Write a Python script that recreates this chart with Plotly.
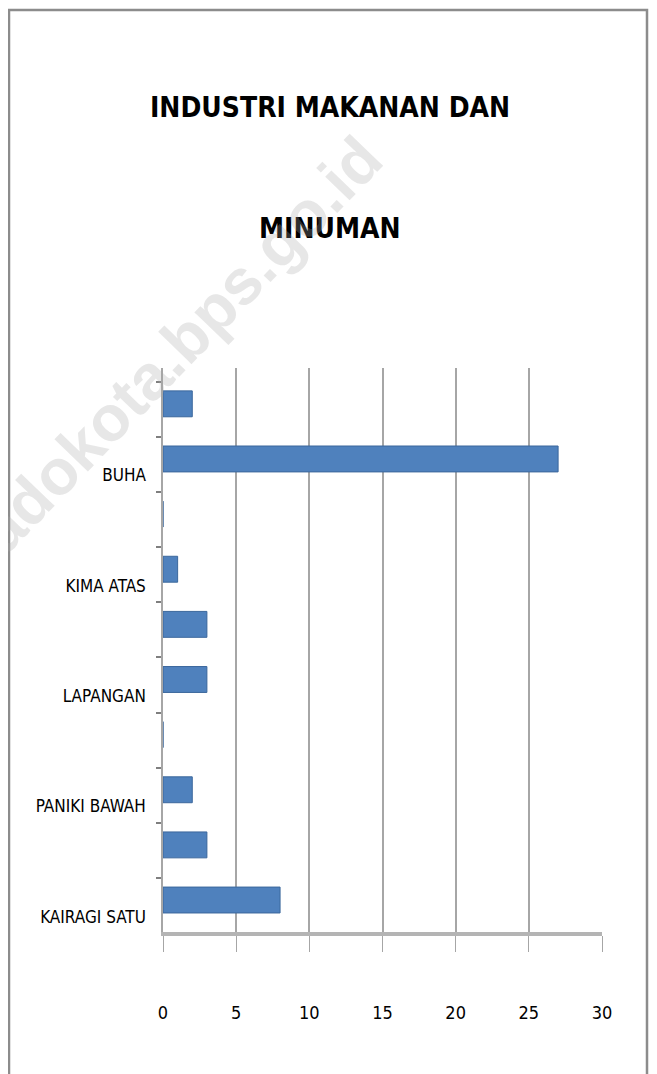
import plotly.graph_objects as go

# bottom -> top, ten kelurahan; only every other label is printed in the chart
positions = [0, 1, 2, 3, 4, 5, 6, 7, 8, 9]
values = [8, 3, 2, 0, 3, 3, 1, 0, 27, 2]
shown_labels = ["KAIRAGI SATU", "PANIKI BAWAH", "LAPANGAN", "KIMA ATAS", "BUHA"]
shown_at = [0, 2, 4, 6, 8]
x_ticks = [0, 5, 10, 15, 20, 25, 30]

TITLE_LINES = ["INDUSTRI MAKANAN DAN", "MINUMAN"]
WATERMARK = "manadokota.bps.go.id"

NARROW = "DejaVu Sans Condensed, Liberation Sans Narrow, Arial Narrow, sans-serif"

# page pixel -> paper coords (plot area sits at x 163..602, y 368..932 on the page)
def px(x):
    return (x - 163) / 439


def py(y):
    return (932 - y) / 564


fig = go.Figure(
    go.Bar(
        x=values,
        y=positions,
        orientation="h",
        width=0.47,
        marker=dict(color="#4f81bd", line=dict(color="#3b679c", width=1)),
        hoverinfo="x",
    )
)

# the page body adds an 8px margin, so the figure is 8px smaller than the window
fig.update_layout(
    width=649,
    height=1066,
    margin=dict(l=155, r=55, t=360, b=142),
    paper_bgcolor="white",
    plot_bgcolor="white",
    showlegend=False,
)

fig.update_xaxes(
    range=[0, 30],
    tickvals=x_ticks,
    showgrid=True,
    gridcolor="#a6a6a6",
    gridwidth=1.5,
    showline=True,
    linecolor="#b4b4b4",
    linewidth=4,
    ticks="outside",
    ticklen=16,
    tickcolor="#a6a6a6",
    ticklabelstandoff=45,
    tickfont=dict(family=NARROW, size=18, color="black"),
    zeroline=False,
)

fig.update_yaxes(
    range=[-0.58, 9.65],
    tickmode="array",
    tickvals=[p - 0.3 for p in shown_at],
    ticktext=shown_labels,
    ticks="",
    showgrid=False,
    zeroline=False,
    showline=True,
    linecolor="#a6a6a6",
    linewidth=1.5,
    ticklabelstandoff=12,
    tickfont=dict(family=NARROW, size=17, color="black"),
    minor=dict(
        tickmode="array",
        tickvals=[p - 0.6 for p in positions] + [9.4],
        ticks="outside",
        ticklen=5,
        tickcolor="#7f7f7f",
        tickwidth=2,
        showgrid=False,
    ),
)

# title, two lines
for i, line in enumerate(TITLE_LINES):
    fig.add_annotation(
        text=f"<b>{line}</b>",
        xref="paper", yref="paper",
        x=px(330), y=py(108 + 120 * i),
        showarrow=False,
        font=dict(family=NARROW, size=28, color="black"),
        xanchor="center", yanchor="middle",
    )

# faint diagonal watermark
fig.add_annotation(
    text=f"<b>{WATERMARK}</b>",
    xref="paper", yref="paper",
    x=px(134), y=py(392),
    xanchor="center", yanchor="middle",
    showarrow=False,
    textangle=-46,
    font=dict(family="Liberation Sans, Arial, sans-serif", size=64,
              color="rgba(170,170,170,0.28)"),
)

# chart frame
fig.add_shape(
    type="rect",
    xref="paper", yref="paper",
    x0=px(9), x1=px(647),
    y0=py(1090), y1=py(10),
    line=dict(color="#8c8c8c", width=2.5),
    fillcolor="rgba(0,0,0,0)",
    layer="below",
)

fig.write_html("out.html")
